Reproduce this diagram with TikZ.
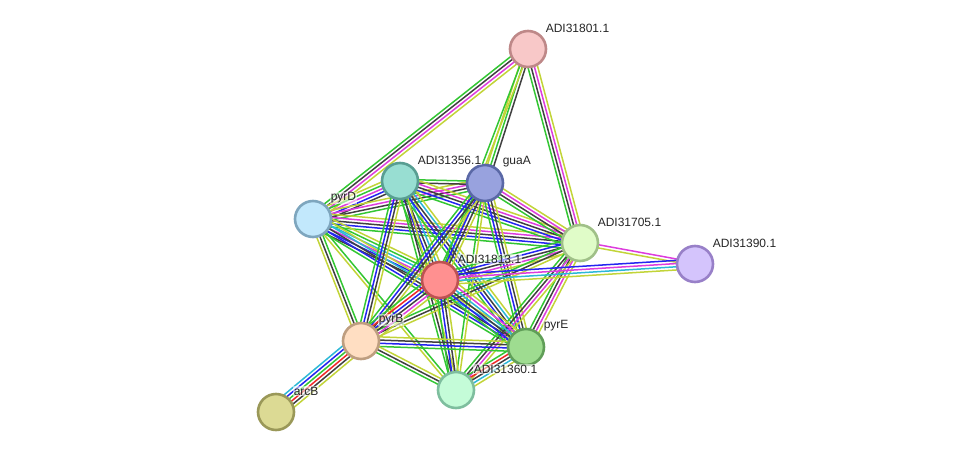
\documentclass[tikz,border=0pt]{standalone}
\usepackage{fontspec}
\setmainfont{Liberation Sans}
\usetikzlibrary{calc,backgrounds}

% one edge = several parallel evidence lines, centred on the axis
\newcommand\stringedge[3]{%
  \foreach \c [count=\k] in #3 {\xdef\ecount{\k}}%
  \foreach \c [count=\k] in #3 {%
    \pgfmathsetmacro\off{(\k-(\ecount+1)/2)*3.2}%
    \draw[evidence, ev\c] ($(#1.center)!\off pt!90:(#2.center)$) -- ($(#2.center)!\off pt!-90:(#1.center)$);
  }%
}

\begin{document}
\begin{tikzpicture}[x=1pt, y=-1pt, line cap=round, line join=round,
  prot/.style={circle, minimum size=36pt, inner sep=0pt, line width=2.6pt},
  lbl/.style={font=\fontsize{12}{14}\selectfont, anchor=west, inner sep=0.6pt, text=black!85,
              fill=white, fill opacity=0.55, text opacity=1},
  evidence/.style={line width=1.5pt},
  evg/.style={draw=evgreen}, evy/.style={draw=evyellow}, evk/.style={draw=evblack},
  evb/.style={draw=evblue}, evm/.style={draw=evmagenta}, evc/.style={draw=evcyan},
  evr/.style={draw=evred}]
\definecolor{evgreen}{HTML}{33C633}
\definecolor{evyellow}{HTML}{C2D438}
\definecolor{evblack}{HTML}{404040}
\definecolor{evblue}{HTML}{2424F0}
\definecolor{evmagenta}{HTML}{DD3CDD}
\definecolor{evcyan}{HTML}{2CB8D6}
\definecolor{evred}{HTML}{F02828}
\useasboundingbox (0,0) rectangle (975,458);
% ---- proteins ----
\node[prot, fill={rgb,255:red,248;green,200;blue,200}, draw={rgb,255:red,190;green,136;blue,136}] (n1801) at (528,49) {};
\node[prot, fill={rgb,255:red,152;green,222;blue,210}, draw={rgb,255:red,88;green,158;blue,146}] (n1356) at (400,181) {};
\node[prot, fill={rgb,255:red,152;green,162;blue,222}, draw={rgb,255:red,90;green,104;blue,166}] (guaA) at (485,183) {};
\node[prot, fill={rgb,255:red,194;green,232;blue,252}, draw={rgb,255:red,126;green,166;blue,190}] (pyrD) at (313,219) {};
\node[prot, fill={rgb,255:red,224;green,252;blue,200}, draw={rgb,255:red,160;green,192;blue,136}] (n1705) at (580,243) {};
\node[prot, fill={rgb,255:red,212;green,196;blue,252}, draw={rgb,255:red,152;green,128;blue,200}] (n1390) at (695,264) {};
\node[prot, fill={rgb,255:red,255;green,144;blue,144}, draw={rgb,255:red,190;green,82;blue,82}] (n1813) at (440,280) {};
\node[prot, fill={rgb,255:red,255;green,222;blue,194}, draw={rgb,255:red,190;green,158;blue,128}] (pyrB) at (361,341) {};
\node[prot, fill={rgb,255:red,158;green,220;blue,144}, draw={rgb,255:red,96;green,158;blue,88}] (pyrE) at (526,347) {};
\node[prot, fill={rgb,255:red,196;green,252;blue,216}, draw={rgb,255:red,126;green,190;blue,158}] (n1360) at (456,390) {};
\node[prot, fill={rgb,255:red,220;green,218;blue,148}, draw={rgb,255:red,154;green,152;blue,88}] (arcB) at (276,412) {};
% ---- labels ----
\foreach \p/\t in {n1801/ADI31801.1, n1356/ADI31356.1, guaA/guaA, pyrD/pyrD, n1705/ADI31705.1,
                   n1390/ADI31390.1, n1813/ADI31813.1, pyrB/pyrB, pyrE/pyrE, n1360/ADI31360.1, arcB/arcB}
  \node[lbl] (l\p) at ([shift={(17,-21)}]\p.center) {\t};
% ---- evidence edges ----
\begin{scope}[on background layer]
\foreach \a/\b/\cols in {
  n1801/pyrD/{g,k,m,y}, n1801/guaA/{y,g,k}, n1801/n1813/{g,y}, n1801/n1705/{g,k,m,y},
  pyrD/n1356/{k,b,m,g,y}, pyrD/guaA/{g,k,m,y}, pyrD/n1705/{g,b,k,m,y},
  pyrD/n1813/{k,b,m,c,g,y}, pyrD/pyrB/{y,k,g}, pyrD/pyrE/{g,b,k,c,y}, pyrD/n1360/{y,g},
  n1356/guaA/{k,g}, n1356/n1705/{g,b,k,m,y}, n1356/n1813/{g,b,k,c,y},
  n1356/pyrB/{g,b,k,y}, n1356/pyrE/{g,b,k,c,y}, n1356/n1360/{g,k,y},
  guaA/n1705/{g,k,m,y}, guaA/n1813/{g,b,k,y}, guaA/pyrB/{g,b,k,y},
  guaA/pyrE/{g,b,k,y}, guaA/n1360/{g,y},
  n1705/n1390/{y,m}, n1705/n1813/{g,b,k,m,y}, n1705/pyrB/{g,k,y},
  n1705/pyrE/{g,k,m,y}, n1705/n1360/{g,k,m,y},
  n1813/n1390/{y,c,m,b}, n1813/pyrB/{g,r,b,k,m,y}, n1813/pyrE/{g,b,k,c,m,y},
  n1813/n1360/{g,b,k,y},
  pyrB/arcB/{c,b,g,r,k,y}, pyrB/pyrE/{g,b,k,y}, pyrB/n1360/{g,k,y},
  pyrE/n1360/{g,r,k,c,y}}
  \stringedge{\a}{\b}{\cols};
\end{scope}
\end{tikzpicture}
\end{document}
